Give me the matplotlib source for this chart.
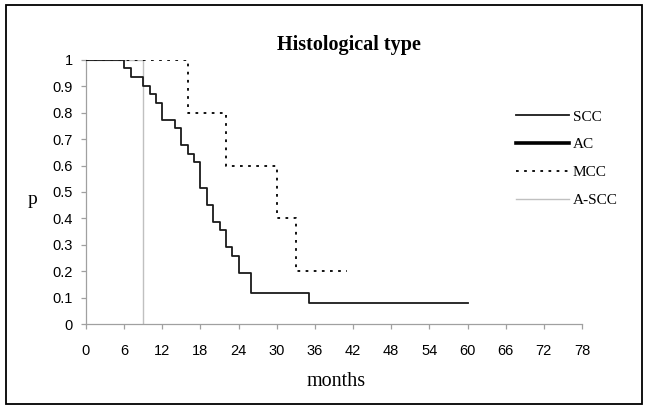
import matplotlib
matplotlib.use("Agg")
import matplotlib.pyplot as plt
from matplotlib.patches import Rectangle

# survival step data (months, p)
scc_t = [0, 6, 7, 9, 10, 11, 12, 14, 15, 16, 17, 18, 19, 20, 21, 22, 23, 24, 26, 35, 60]
scc_p = [1.0, 0.968, 0.935, 0.903, 0.871, 0.839, 0.774, 0.742, 0.677, 0.645, 0.613,
         0.516, 0.452, 0.387, 0.355, 0.290, 0.258, 0.194, 0.117, 0.078, 0.078]
ac_t = [0]
ac_p = [1.0]
mcc_t = [0, 16, 22, 30, 33, 41]
mcc_p = [1.0, 0.8, 0.6, 0.4, 0.2, 0.2]
ascc_t = [0, 9, 9]
ascc_p = [1.0, 1.0, 0.0]

x_ticks = list(range(0, 79, 6))
y_ticks = [0, 0.1, 0.2, 0.3, 0.4, 0.5, 0.6, 0.7, 0.8, 0.9, 1]
y_labels = ["0", "0.1", "0.2", "0.3", "0.4", "0.5", "0.6", "0.7", "0.8", "0.9", "1"]

W, H = 648, 408
fig = plt.figure(figsize=(W / 100, H / 100), dpi=100)
ax = fig.add_axes([86 / W, 1 - 324 / H, (582 - 86) / W, (324 - 60) / H])

ax.plot(ascc_t, ascc_p, color="#c0c0c0", lw=1.0, label="A-SCC", zorder=2)
ax.step(mcc_t, mcc_p, where="post", color="black", lw=1.3, ls=(0, (1.5, 3)), label="MCC", zorder=3)
ax.step(scc_t, scc_p, where="post", color="#1a1a1a", lw=1.3, label="SCC", zorder=4)
ax.plot(ac_t, ac_p, color="black", lw=2.6, label="AC", zorder=4)

ax.set_xlim(0, 78)
ax.set_ylim(0, 1)
ax.set_xticks(x_ticks)
ax.set_yticks(y_ticks)
ax.set_yticklabels(y_labels)
for s in ["top", "right"]:
    ax.spines[s].set_visible(False)
for s in ["left", "bottom"]:
    ax.spines[s].set_color("#a0a0a0")
    ax.spines[s].set_linewidth(0.9)
ax.tick_params(axis="both", direction="out", length=3.6, color="#a0a0a0", width=0.9,
               labelsize=10.5)
ax.tick_params(axis="x", pad=11)
ax.tick_params(axis="y", pad=6)
for lab in ax.get_xticklabels() + ax.get_yticklabels():
    lab.set_fontfamily("Liberation Sans")

handles, labels = ax.get_legend_handles_labels()
order = [labels.index(n) for n in ["SCC", "AC", "MCC", "A-SCC"]]
ax.legend([handles[i] for i in order], [labels[i] for i in order],
          loc="upper left", bbox_to_anchor=(516 / W, 1 - 110 / H),
          bbox_transform=fig.transFigure, frameon=False, borderpad=0, borderaxespad=0,
          handlelength=3.46, handletextpad=0.26, labelspacing=0.92,
          prop={"family": "Liberation Serif", "size": 11})

fig.text(349 / W, 1 - 45 / H, "Histological type", ha="center", va="center",
         fontfamily="Liberation Serif", fontweight="bold", fontsize=14.5)
fig.text(32 / W, 1 - 200 / H, "p", ha="center", va="center",
         fontfamily="Liberation Serif", fontsize=14)
fig.text(336 / W, 1 - 382 / H, "months", ha="center", va="center",
         fontfamily="Liberation Serif", fontsize=14.5)

fig.patches.append(Rectangle((6 / W, 4 / H), (W - 12) / W, (H - 9) / H, transform=fig.transFigure,
                             fill=False, edgecolor="black", lw=1.3))

fig.savefig("out.png", dpi=100)
